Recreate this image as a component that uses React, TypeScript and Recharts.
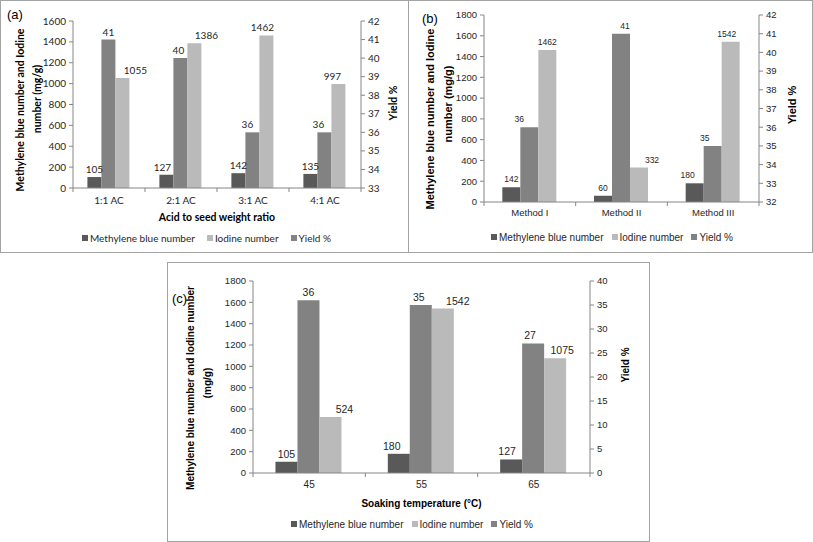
import React from 'react';
import { BarChart, Bar, XAxis, YAxis, Legend, LabelList, Label } from 'recharts';

// (a) acid to seed weight ratio
const ratioCategories = ['1:1 AC', '2:1 AC', '3:1 AC', '4:1 AC'];
const ratioMethylene = [105, 127, 142, 135];
const ratioIodine = [1055, 1386, 1462, 997];
const ratioYield = [41, 40, 36, 36];
const ratioLeftTicks = [0, 200, 400, 600, 800, 1000, 1200, 1400, 1600];
const ratioRightTicks = [33, 34, 35, 36, 37, 38, 39, 40, 41, 42];

// (b) activation method
const methodCategories = ['Method I', 'Method II', 'Method III'];
const methodMethylene = [142, 60, 180];
const methodIodine = [1462, 332, 1542];
const methodYield = [36, 41, 35];
const methodLeftTicks = [0, 200, 400, 600, 800, 1000, 1200, 1400, 1600, 1800];
const methodRightTicks = [32, 33, 34, 35, 36, 37, 38, 39, 40, 41, 42];

// (c) soaking temperature
const tempCategories = ['45', '55', '65'];
const tempMethylene = [105, 180, 127];
const tempIodine = [524, 1542, 1075];
const tempYield = [36, 35, 27];
const tempLeftTicks = [0, 200, 400, 600, 800, 1000, 1200, 1400, 1600, 1800];
const tempRightTicks = [0, 5, 10, 15, 20, 25, 30, 35, 40];

const DARK = '#595959';
const MID = '#828282';
const LIGHT = '#bababa';
const AXIS = '#868686';
const TEXT = '#262626';

const CALIBRI = 'Lato, "Open Sans", sans-serif';
const ARIAL = '"Liberation Sans", Arial, sans-serif';

const legendItems = [
  { name: 'Methylene blue number', color: DARK },
  { name: 'Iodine number', color: LIGHT },
  { name: 'Yield %', color: MID },
];

function Panel(p: any) {
  const data = p.categories.map((c: string, i: number) => ({
    name: c,
    mb: p.mb[i],
    iodine: p.iodine[i],
    yld: p.yld[i],
  }));
  const plotW = p.w - p.margin.left - p.margin.right - p.leftW - p.rightW;
  const bw = plotW / p.categories.length;
  const last = p.categories.length - 1;

  // Excel-style category ticks sit on the boundaries between groups
  const xTick = (t: any) => {
    const ay = t.y - 7;
    return (
      <g>
        <line x1={t.x - bw / 2} x2={t.x - bw / 2} y1={ay} y2={ay + 4} stroke={AXIS} />
        {t.index === last && <line x1={t.x + bw / 2} x2={t.x + bw / 2} y1={ay} y2={ay + 4} stroke={AXIS} />}
        <text x={t.x} y={ay + p.xTickOffset} textAnchor="middle" fontSize={p.catSize} fontFamily={p.font} fill={TEXT}>
          {t.payload.value}
        </text>
      </g>
    );
  };

  const valueLabel = (offsets: number[]) => (lp: any) => {
    const vb = lp.viewBox || {};
    const x = lp.x ?? vb.x;
    const y = lp.y ?? vb.y;
    const w = lp.width ?? vb.width;
    return (
      <text
        x={x + w / 2 + (offsets[lp.index] || 0)}
        y={y - p.labelGap}
        textAnchor="middle"
        fontSize={p.labelSize}
        fontFamily={p.font}
        fill={TEXT}
      >
        {lp.value}
      </text>
    );
  };

  const lt = p.leftTicks;
  const rt = p.rightTicks;

  return (
    <div style={{ position: 'absolute', left: p.x, top: p.y, width: p.w, height: p.h }}>
      <BarChart width={p.w} height={p.h} data={data} margin={p.margin} barCategoryGap="20%" barGap={0}>
        <XAxis
          dataKey="name"
          height={p.xH}
          axisLine={{ stroke: AXIS }}
          tickLine={false}
          tickSize={4}
          tickMargin={3}
          interval={0}
          tick={xTick}
        >
          {p.xTitle && (
            <Label
              content={(lb: any) => {
                const vb = lb.viewBox;
                return (
                  <text
                    x={vb.x + vb.width / 2}
                    y={vb.y + p.xTitleOffset}
                    textAnchor="middle"
                    fontSize={p.xTitleSize}
                    fontWeight="bold"
                    fontFamily={p.font}
                    fill="#000"
                  >
                    {p.xTitle}
                  </text>
                );
              }}
            />
          )}
        </XAxis>
        <YAxis
          yAxisId="left"
          width={p.leftW}
          domain={[lt[0], lt[lt.length - 1]]}
          ticks={lt}
          interval={0}
          axisLine={{ stroke: AXIS }}
          tickLine={{ stroke: AXIS }}
          tickSize={4}
          tickMargin={3}
          tick={{ fontSize: p.tickSize, fontFamily: p.font, fill: TEXT }}
        >
          <Label
            content={() => (
              <g>
                {p.yTitle.map((line: string, i: number) => (
                  <text
                    key={i}
                    transform={`translate(${p.yTitleX[i]},${p.yTitleY[i]}) rotate(-90)`}
                    textAnchor="middle"
                    dominantBaseline="central"
                    fontSize={p.yTitleSize}
                    fontWeight="bold"
                    fontFamily={p.font}
                    fill="#000"
                  >
                    {line}
                  </text>
                ))}
              </g>
            )}
          />
        </YAxis>
        <YAxis
          yAxisId="right"
          orientation="right"
          width={p.rightW}
          domain={[rt[0], rt[rt.length - 1]]}
          ticks={rt}
          interval={0}
          axisLine={{ stroke: AXIS }}
          tickLine={{ stroke: AXIS }}
          tickSize={4}
          tickMargin={3}
          tick={{ fontSize: p.tickSize, fontFamily: p.font, fill: TEXT, textAnchor: 'start' }}
        >
          <Label
            content={() => (
              <text
                transform={`translate(${p.rTitleX},${p.rTitleY}) rotate(-90)`}
                textAnchor="middle"
                dominantBaseline="central"
                fontSize={p.rTitleSize}
                fontWeight="bold"
                fontFamily={p.font}
                fill="#000"
              >
                Yield %
              </text>
            )}
          />
        </YAxis>
        <Legend
          verticalAlign="bottom"
          wrapperStyle={{ left: 0, width: p.w }}
          content={() => (
            <div
              style={{
                display: 'flex',
                justifyContent: 'center',
                alignItems: 'center',
                gap: p.legendGap,
                height: 14,
                fontFamily: p.font,
                fontSize: p.legendSize,
                color: TEXT,
                paddingLeft: p.legendShift,
                whiteSpace: 'nowrap',
              }}
            >
              {legendItems.map((it) => (
                <span key={it.name} style={{ display: 'flex', alignItems: 'center' }}>
                  <span style={{ width: 6, height: 6, background: it.color, marginRight: 2 }} />
                  {it.name}
                </span>
              ))}
            </div>
          )}
        />
        <Bar yAxisId="left" dataKey="mb" name="Methylene blue number" fill={DARK} isAnimationActive={false}>
          <LabelList dataKey="mb" content={valueLabel(p.mbDx)} />
        </Bar>
        <Bar yAxisId="right" dataKey="yld" name="Yield %" fill={MID} isAnimationActive={false}>
          <LabelList dataKey="yld" content={valueLabel(p.yldDx)} />
        </Bar>
        <Bar yAxisId="left" dataKey="iodine" name="Iodine number" fill={LIGHT} isAnimationActive={false}>
          <LabelList dataKey="iodine" content={valueLabel(p.iodineDx)} />
        </Bar>
      </BarChart>
      <div
        style={{
          position: 'absolute',
          left: p.tagX,
          top: p.tagY,
          fontFamily: ARIAL,
          fontSize: 13,
          color: '#000',
          lineHeight: 1,
        }}
      >
        {p.tag}
      </div>
    </div>
  );
}

const frame = (left: number, top: number, width: number, height: number) => (
  <div
    style={{
      position: 'absolute',
      left,
      top,
      width,
      height,
      border: '1px solid #a3a3a3',
      boxSizing: 'border-box',
    }}
  />
);

export default function App() {
  return (
    <div style={{ position: 'absolute', left: 0, top: 0, width: 813, height: 542, background: '#fff', overflow: 'hidden' }}>
      {frame(0, 0, 409, 253)}
      {frame(408, 0, 405, 253)}
      {frame(167, 262, 483, 280)}
      <Panel
        tag="(a)"
        tagX={6}
        tagY={7}
        x={1}
        y={1}
        w={407}
        h={251}
        margin={{ top: 20, right: 19, bottom: 7, left: 40 }}
        leftW={32}
        rightW={28}
        xH={43}
        font={CALIBRI}
        tickSize={10}
        catSize={10}
        labelSize={10}
        labelGap={4}
        xTickOffset={16}
        categories={ratioCategories}
        mb={ratioMethylene}
        iodine={ratioIodine}
        yld={ratioYield}
        leftTicks={ratioLeftTicks}
        rightTicks={ratioRightTicks}
        mbDx={[0, -4, 0, 0]}
        yldDx={[0, -2, -5, -6]}
        iodineDx={[13, 12, -4, -6]}
        yTitle={['Methylene blue number and Iodine', 'number (mg/g)']}
        yTitleX={[19, 36]}
        yTitleY={[109, 98]}
        yTitleSize={10.5}
        rTitleX={392}
        rTitleY={102}
        rTitleSize={10.5}
        xTitle="Acid to seed weight ratio"
        xTitleOffset={33}
        xTitleSize={10.5}
        legendGap={12}
        legendSize={10}
        legendShift={4}
      />
      <Panel
        tag="(b)"
        tagX={14}
        tagY={11}
        x={408}
        y={1}
        w={404}
        h={251}
        margin={{ top: 14, right: 23, bottom: 8, left: 41 }}
        leftW={35}
        rightW={30}
        xH={28}
        font={ARIAL}
        tickSize={9.5}
        catSize={9.5}
        labelSize={8.5}
        labelGap={5}
        xTickOffset={14}
        categories={methodCategories}
        mb={methodMethylene}
        iodine={methodIodine}
        yld={methodYield}
        leftTicks={methodLeftTicks}
        rightTicks={methodRightTicks}
        mbDx={[0, 0, -7]}
        yldDx={[-10, 4, -8]}
        iodineDx={[0, 13, -4]}
        yTitle={['Methylene blue number and Iodine', 'number (mg/g)']}
        yTitleX={[22, 40]}
        yTitleY={[118, 103]}
        yTitleSize={11}
        rTitleX={384}
        rTitleY={104}
        rTitleSize={11}
        legendGap={8}
        legendSize={10}
        legendShift={4}
      />
      <Panel
        tag="(c)"
        tagX={5}
        tagY={30}
        x={167}
        y={262}
        w={482}
        h={279}
        margin={{ top: 19, right: 29, bottom: 10, left: 51 }}
        leftW={35}
        rightW={30}
        xH={44}
        font={ARIAL}
        tickSize={9.5}
        catSize={10}
        labelSize={10.5}
        labelGap={4}
        xTickOffset={15}
        categories={tempCategories}
        mb={tempMethylene}
        iodine={tempIodine}
        yld={tempYield}
        leftTicks={tempLeftTicks}
        rightTicks={tempRightTicks}
        mbDx={[0, -7, -4]}
        yldDx={[0, -2, -3]}
        iodineDx={[14, 15, 7]}
        yTitle={['Methylene blue number and Iodine number', '(mg/g)']}
        yTitleX={[23, 40]}
        yTitleY={[126, 121]}
        yTitleSize={10}
        rTitleX={458}
        rTitleY={103}
        rTitleSize={10}
        xTitle="Soaking temperature (°C)"
        xTitleOffset={34}
        xTitleSize={10}
        legendGap={8}
        legendSize={10}
        legendShift={8}
      />
    </div>
  );
}
